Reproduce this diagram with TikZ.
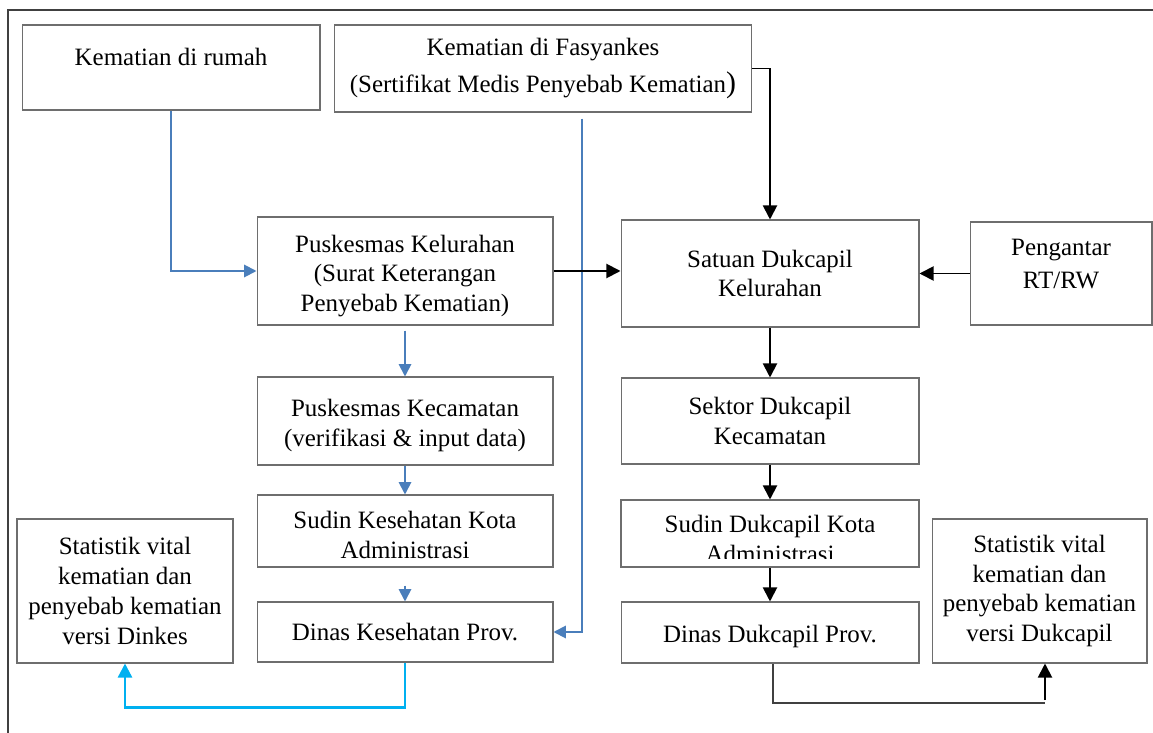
\documentclass[tikz,border=0pt]{standalone}
\usepackage{fontspec}
\setmainfont{Liberation Serif}
\usetikzlibrary{arrows.meta}
\definecolor{flowblue}{HTML}{4A7EBB}
\definecolor{flowcyan}{HTML}{00B0F0}
\definecolor{boxgray}{HTML}{6E6E6E}
\definecolor{framegray}{HTML}{404040}

\begin{document}
\begin{tikzpicture}[x=0.02cm,y=-0.02cm,font=\fontsize{14.2}{17}\selectfont]
    \tikzstyle{box}=[rectangle,draw=boxgray,line width=0.6pt,align=center,inner sep=0pt]
    \tikzstyle{bluearrow}=[color=flowblue,line width=1.1pt,-{Triangle[length=7pt,width=7pt]}]
    \tikzstyle{cyanarrow}=[color=flowcyan,line width=1.4pt,-{Triangle[length=8pt,width=8pt]}]
    \tikzstyle{blackarrow}=[color=black,line width=1.1pt,-{Triangle[length=8pt,width=8pt]}]
    \tikzstyle{thinline}=[color=framegray,line width=0.6pt]

    \useasboundingbox (0,0) rectangle (1153,733);
    \draw[framegray,line width=0.8pt] (8,733) -- (8,10) -- (1153,10);

    \node[box,minimum width=5.96cm,minimum height=1.7cm,text depth=0.44cm] (rumah) at (171,67.5) {Kematian di rumah};
    \node[box,minimum width=8.36cm,minimum height=1.74cm] (fasyankes) at (543,68.5)
        {Kematian di Fasyankes\\[4pt](Sertifikat Medis Penyebab Kematian{\fontsize{17}{17}\selectfont)}};

    \node[box,minimum width=5.92cm,minimum height=2.16cm,text height=49.5pt] (puskel) at (405,271)
        {Puskesmas Kelurahan\\(Surat Keterangan\\Penyebab Kematian)};
    \node[box,minimum width=5.92cm,minimum height=1.76cm,text height=32.4pt] (puskec) at (405,421)
        {Puskesmas Kecamatan\\(verifikasi \& input data)};
    \node[box,minimum width=5.92cm,minimum height=1.44cm,text height=31pt] (sudinkes) at (405,531)
        {Sudin Kesehatan Kota\\Administrasi};
    \node[box,minimum width=5.92cm,minimum height=1.2cm] (dinaskes) at (405,632) {Dinas Kesehatan Prov.};
    \node[box,minimum width=4.32cm,minimum height=2.88cm] (statkes) at (125,591)
        {Statistik vital\\kematian dan\\penyebab kematian\\versi Dinkes};

    \node[box,minimum width=5.96cm,minimum height=2.14cm] (satuan) at (770,273.5)
        {Satuan Dukcapil\\Kelurahan};
    \node[box,minimum width=3.64cm,minimum height=2.06cm,text depth=0.38cm] (pengantar) at (1061,273.5)
        {Pengantar\\[2pt]RT/RW};
    \node[box,minimum width=5.96cm,minimum height=1.72cm] (sektor) at (770,421)
        {Sektor Dukcapil\\Kecamatan};
    \node[box,minimum width=5.96cm,minimum height=1.34cm,text height=33pt] (sudinduk) at (770,533.5)
        {Sudin Dukcapil Kota\\Administrasi};
    \fill[white] (623,559) rectangle (917,566);
    \draw[boxgray,line width=0.6pt] (sudinduk.south west) rectangle (sudinduk.north east);
    \node[box,minimum width=5.96cm,minimum height=1.22cm,text height=14.2pt] (dinasduk) at (770,632.5) {Dinas Dukcapil Prov.};
    \node[box,minimum width=4.3cm,minimum height=2.88cm] (statduk) at (1039.5,591)
        {Statistik vital\\kematian dan\\penyebab kematian\\versi Dukcapil};

    \draw[bluearrow] (rumah.south) |- (puskel.west);
    \draw[bluearrow] ([xshift=0.78cm,yshift=-0.12cm]fasyankes.south) |- (dinaskes.east);
    \draw[bluearrow] ([yshift=-0.1cm]puskel.south) -- (puskec.north);
    \draw[bluearrow] (puskec) -- (sudinkes);
    \draw[bluearrow] ([yshift=-0.36cm]sudinkes.south) -- (dinaskes.north);
    \draw[cyanarrow] (dinaskes.south) -- ++(0,45) -| (statkes.south);

    \draw[blackarrow] (fasyankes.east) -| (satuan.north);
    \draw[blackarrow] (puskel.east) -- (puskel.east -| satuan.west);
    \draw[blackarrow] (pengantar.west) -- (satuan.east);
    \foreach \a/\b in {satuan/sektor,sektor/sudinduk,sudinduk/dinasduk} {
        \draw[blackarrow] (\a) -- (\b);
    };

    \coordinate (turn) at (1045,703);
    \draw[thinline] ([xshift=0.06cm]dinasduk.south) |- (turn);
    \draw[blackarrow] ([yshift=0.06cm]turn) -- (turn |- statduk.south);
\end{tikzpicture}
\end{document}
